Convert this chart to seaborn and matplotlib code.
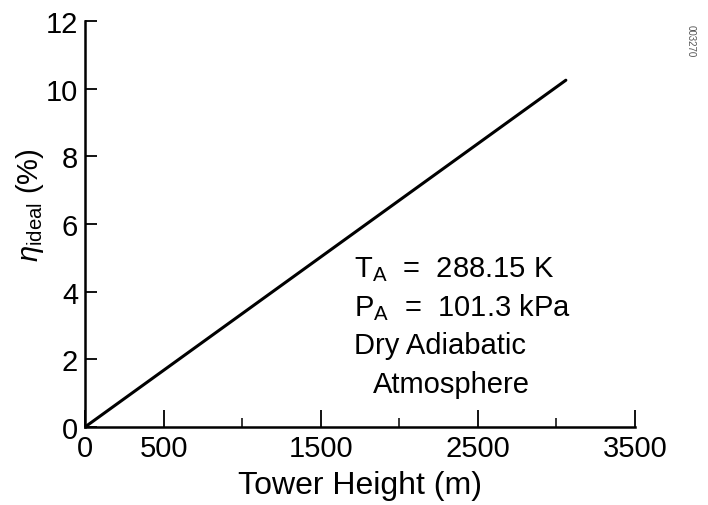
import matplotlib
matplotlib.use("Agg")
import matplotlib.pyplot as plt
import seaborn as sns
import pandas as pd
from matplotlib.ticker import FixedLocator

# data
tower_height = [0, 3060]
efficiency = [0.0, 10.25]
x_major = [0, 500, 1500, 2500, 3500]
x_minor = [1000, 2000, 3000]
y_ticks = [0, 2, 4, 6, 8, 10, 12]

sns.set_theme(style="ticks")
plt.rcParams['font.family'] = ['Liberation Sans', 'DejaVu Sans']
plt.rcParams['mathtext.fontset'] = 'custom'
plt.rcParams['mathtext.rm'] = 'Liberation Sans'
plt.rcParams['mathtext.it'] = 'Liberation Sans:italic'

df = pd.DataFrame({"h": tower_height, "eta": efficiency})

fig = plt.figure(figsize=(7.08, 5.06), dpi=100)
ax = fig.add_axes([85/708, 1 - 428/506, (635 - 85)/708, (428 - 22)/506])
sns.lineplot(data=df, x="h", y="eta", ax=ax, color="black", linewidth=2.2)

ax.set_xlim(0, 3500)
ax.set_ylim(0, 12)
ax.xaxis.set_major_locator(FixedLocator(x_major))
ax.xaxis.set_minor_locator(FixedLocator(x_minor))
ax.set_yticks(y_ticks)
ax.set_xticklabels([str(v) for v in x_major])
ax.set_yticklabels([str(v) for v in y_ticks])
sns.despine(ax=ax)
for s in ["left", "bottom"]:
    ax.spines[s].set_linewidth(1.8)
    ax.spines[s].set_color("black")

ax.tick_params(axis="x", which="major", direction="in", length=12, width=1.3,
               labelsize=21, pad=5, colors="black")
ax.tick_params(axis="x", which="minor", direction="in", length=6.5, width=1.3)
ax.tick_params(axis="y", which="major", direction="in", length=8.5, width=1.3,
               labelsize=21, pad=5, colors="black")

ax.set_xlabel("Tower Height (m)", fontsize=23, labelpad=6, color="black")
ax.set_ylabel(r"$\eta_{\mathrm{ideal}}$ (%)", fontsize=21, color="black")
ax.yaxis.set_label_coords(-0.07, 0.55)

kw = dict(fontsize=21, color="black", transform=ax.transData, va="center", ha="left")
ax.text(1710, 4.67, r"T$_{\mathrm{A}}$  =  288.15 K", **kw)
ax.text(1710, 3.55, r"P$_{\mathrm{A}}$  =  101.3 kPa", **kw)
ax.text(1710, 2.43, "Dry Adiabatic", **kw)
ax.text(1830, 1.27, "Atmosphere", **kw)

fig.text(0.975, 0.95, "003270", rotation=270, fontsize=7, color="#555555",
         ha="center", va="top")

fig.savefig("out.png", dpi=100)
